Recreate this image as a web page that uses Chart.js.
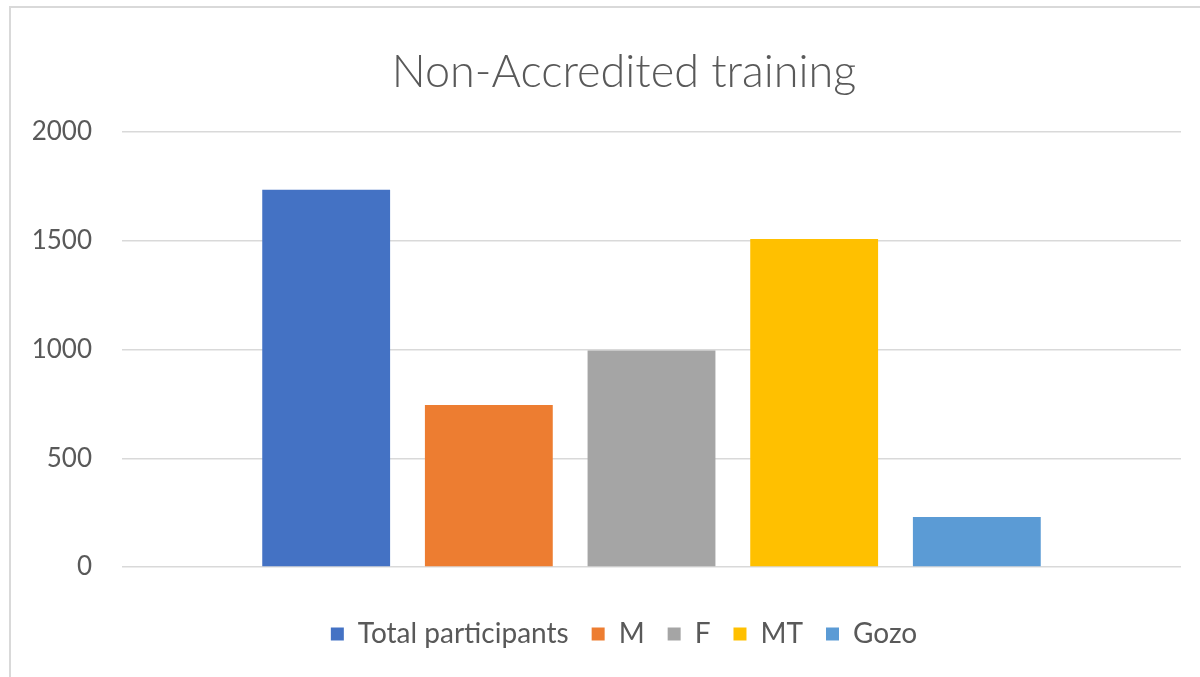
<!DOCTYPE html>
<html>
<head>
<meta charset="utf-8">
<script src="https://cdn.jsdelivr.net/npm/chart.js@4"></script>
<style>
  html, body { margin: 0; padding: 0; background: #fff; overflow: hidden; }
  #wrap { position: relative; width: 1200px; height: 677px; overflow: hidden; }
  #frame { position: absolute; left: 9px; top: 6px; width: 1300px; height: 800px; border: 2px solid #d9d9d9; }
  #c { position: absolute; left: 0; top: 0; }
</style>
</head>
<body>
<div id="wrap">
  <div id="frame"></div>
  <canvas id="c" width="1248" height="677"></canvas>
</div>
<script>
var title = 'Non-Accredited training';
var categories = [''];
var seriesNames = ['Total participants', 'M', 'F', 'MT', 'Gozo'];
var seriesValues = [1735, 745, 995, 1508, 230];
var seriesColors = ['#4472C4', '#ED7D31', '#A5A5A5', '#FFC000', '#5B9BD5'];
var yTicks = [0, 500, 1000, 1500, 2000];

var textColor = '#595959';
var fontFam = 'Lato, "Open Sans", sans-serif';

var datasets = seriesNames.map(function (name, i) {
  return {
    label: name,
    data: [seriesValues[i]],
    backgroundColor: seriesColors[i],
    borderWidth: 0,
    categoryPercentage: 0.768,
    barPercentage: 0.786
  };
});

// the chart frame runs past the right edge of the picture, so the canvas is wider
// and a blank right-hand axis keeps the plot area where it was
new Chart(document.getElementById('c').getContext('2d'), {
  type: 'bar',
  data: { labels: categories, datasets: datasets },
  options: {
    responsive: false,
    animation: false,
    layout: { padding: { left: 0, right: 0, top: 0, bottom: 19 } },
    plugins: {
      title: {
        display: true,
        text: title,
        color: textColor,
        font: { family: fontFam, size: 45, weight: '300' },
        padding: { top: 45, bottom: 33 }
      },
      legend: {
        position: 'bottom',
        labels: {
          color: textColor,
          font: { family: fontFam, size: 28 },
          boxWidth: 13,
          boxHeight: 13,
          padding: 23
        }
      },
      tooltip: { enabled: false }
    },
    scales: {
      x: {
        grid: { display: false },
        border: { display: false },
        ticks: { display: false },
        afterFit: function (s) { s.height = 30; }
      },
      y: {
        min: 0,
        max: 2000,
        afterBuildTicks: function (s) { s.ticks = yTicks.map(function (v) { return { value: v }; }); },
        afterFit: function (s) { s.width = 122; },
        grid: { color: '#d9d9d9', lineWidth: 1.5, drawTicks: false },
        border: { display: false },
        ticks: {
          color: textColor,
          font: { family: fontFam, size: 26 },
          padding: 30,
          callback: function (v) { return String(v); }
        }
      },
      yRight: {
        type: 'linear',
        position: 'right',
        grid: { display: false },
        border: { display: false },
        ticks: { display: false },
        afterFit: function (s) { s.width = 67; }
      }
    }
  }
});
</script>
</body>
</html>
